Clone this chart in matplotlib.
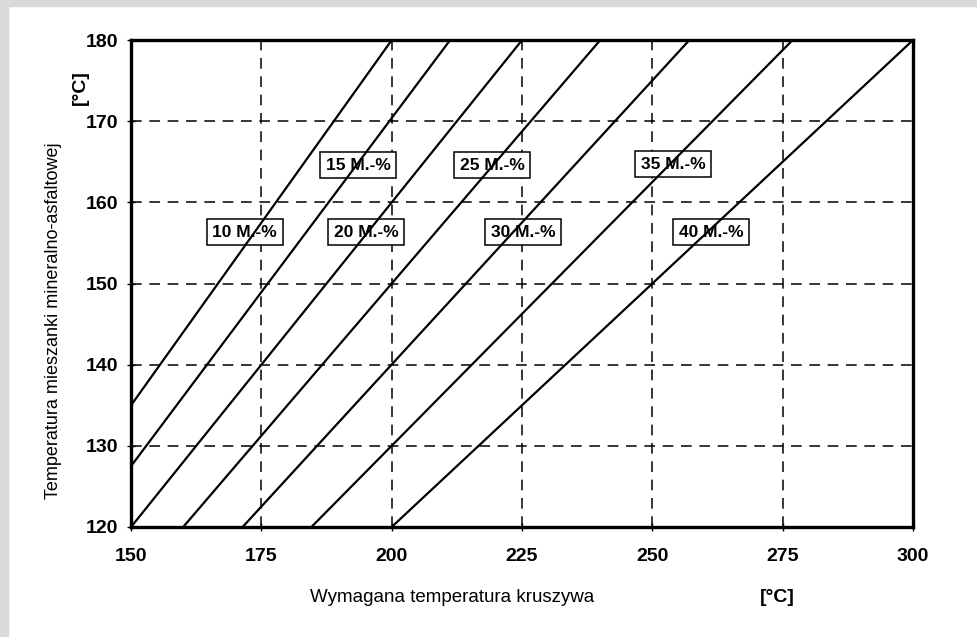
import matplotlib
matplotlib.use("Agg")
import matplotlib.pyplot as plt
from matplotlib.patches import Rectangle

# share of the additive [M.-%] and the end points
shares = [10, 15, 20, 25, 30, 35, 40]
x_start = [150, 150, 150, 160, 171.4, 184.6, 200]
y_start = [135, 127.5, 120, 120, 120, 120, 120]
x_end = [200, 211.2, 225, 240, 257.1, 276.9, 300]
y_end = [180, 180, 180, 180, 180, 180, 180]

# where the labels sit (centre of box, data units)
label_x = [171.8, 193.6, 195.1, 219.3, 225.2, 254.0, 261.3]
label_y = [156.3, 164.6, 156.3, 164.6, 156.3, 164.7, 156.3]

x_ticks = [150, 175, 200, 225, 250, 275, 300]
y_ticks = [120, 130, 140, 150, 160, 170, 180]

plt.rcParams['font.family'] = ['Liberation Sans', 'DejaVu Sans']

fig = plt.figure(figsize=(9.78, 6.37), dpi=100)
# grey scan border on top and left
fig.patches.append(Rectangle((0, 0.991), 1, 0.009, transform=fig.transFigure,
                             color='#d9d9d9', zorder=0))
fig.patches.append(Rectangle((0, 0), 0.008, 1, transform=fig.transFigure,
                             color='#d9d9d9', zorder=0))

ax = fig.add_axes([0.134, 0.1727, 0.7995, 0.7643])

for i in range(len(shares)):
    ax.plot([x_start[i], x_end[i]], [y_start[i], y_end[i]],
            color='black', lw=1.6, zorder=3, solid_capstyle='butt')
    ax.text(label_x[i], label_y[i], f"{shares[i]} M.-%", ha='center', va='center',
            fontsize=12.5, fontweight='bold', zorder=2,
            bbox=dict(boxstyle='square,pad=0.32', fc='white', ec='black', lw=1.1))

ax.set_xlim(150, 300)
ax.set_ylim(120, 180)
ax.set_xticks(x_ticks)
ax.set_yticks(y_ticks)
ax.grid(True, color='black', lw=1.1, linestyle=(0, (7, 5)), zorder=1)
ax.tick_params(direction='inout', length=6, width=1, labelsize=14, pad=6)
for lab in ax.get_xticklabels() + ax.get_yticklabels():
    lab.set_fontweight('bold')
ax.tick_params(axis='x', pad=12)
for sp in ax.spines.values():
    sp.set_linewidth(2.4)

fig.text(0.462, 0.062, "Wymagana temperatura kruszywa", ha='center', va='center',
         fontsize=13.5)
fig.text(0.795, 0.062, "[°C]", ha='center', va='center', fontsize=14, fontweight='bold')
fig.text(0.055, 0.497, "Temperatura mieszanki mineralno-asfaltowej", rotation=90,
         ha='center', va='center', fontsize=13)
fig.text(0.082, 0.862, "[°C]", rotation=90, ha='center', va='center',
         fontsize=14, fontweight='bold')

fig.savefig("out.png", dpi=100)
